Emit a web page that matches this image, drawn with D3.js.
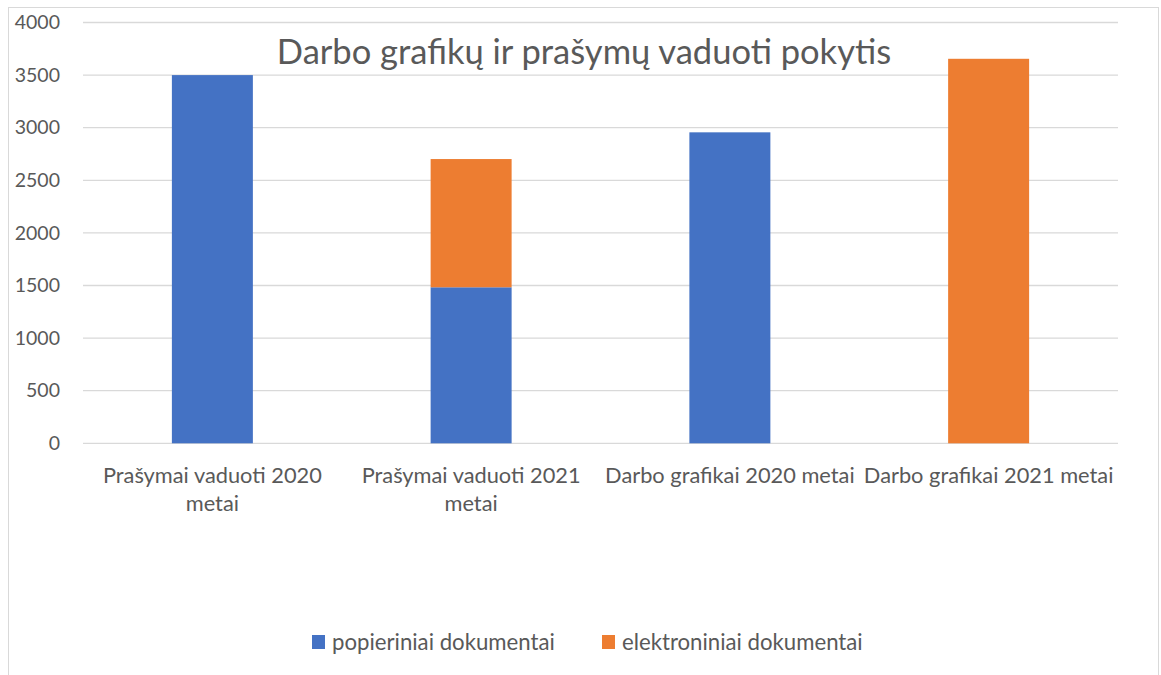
<!DOCTYPE html>
<html>
<head>
<meta charset="utf-8">
<script src="https://d3js.org/d3.v7.min.js"></script>
<style>
  body { margin: 0; background: #ffffff; }
  text { font-family: Lato, "Open Sans", sans-serif; fill: #595959; }
</style>
</head>
<body>
<div id="chart"></div>
<script>
// Chart data
let categories = [
  ["Prašymai vaduoti 2020", "metai"],
  ["Prašymai vaduoti 2021", "metai"],
  ["Darbo grafikai 2020 metai"],
  ["Darbo grafikai 2021 metai"]
];
let seriesNames = ["popieriniai dokumentai", "elektroniniai dokumentai"];
let paperValues = [3500, 1483, 2956, 0];
let electronicValues = [0, 1219, 0, 3655];
let yTicks = [0, 500, 1000, 1500, 2000, 2500, 3000, 3500, 4000];
let colors = ["#4472C4", "#ED7D31"];

// Set height and width for svg
let svgWidth = 1161;
let svgHeight = 675;
let margin = { top: 22.5, right: 43, bottom: 231.7, left: 83 };
let width = svgWidth - margin.left - margin.right;
let height = svgHeight - margin.top - margin.bottom;

let svg = d3.select("#chart")
  .append("svg")
  .attr("width", svgWidth)
  .attr("height", svgHeight);

// Outer frame
svg.append("rect")
  .attr("x", 8.5)
  .attr("y", 7.5)
  .attr("width", 1150)
  .attr("height", 720)
  .attr("fill", "none")
  .attr("stroke", "#D9D9D9");

let chartGroup = svg.append("g")
  .attr("transform", `translate(${margin.left}, ${margin.top})`);

// Scales
let xScale = d3.scaleBand()
  .domain(d3.range(categories.length))
  .range([0, width])
  .paddingInner(0.687)
  .paddingOuter(0.3435);

let yScale = d3.scaleLinear()
  .domain([0, 4000])
  .range([height, 0]);

// Gridlines
chartGroup.append("g")
  .selectAll("line")
  .data(yTicks)
  .enter()
  .append("line")
  .attr("x1", 0)
  .attr("x2", width)
  .attr("y1", d => yScale(d))
  .attr("y2", d => yScale(d))
  .attr("stroke", "#D9D9D9")
  .attr("stroke-width", 1.3);

// Y axis labels
let leftAxis = d3.axisLeft(yScale)
  .tickValues(yTicks)
  .tickFormat(d3.format("d"))
  .tickSize(0)
  .tickPadding(23);
let yAxis = chartGroup.append("g").call(leftAxis);
yAxis.select(".domain").remove();
yAxis.selectAll("text")
  .style("font-size", "19.5px")
  .attr("fill", "#595959");

// Stack the two series
let stackRows = categories.map((c, i) => ({ idx: i, paper: paperValues[i], electronic: electronicValues[i] }));
let stacked = d3.stack().keys(["paper", "electronic"])(stackRows);

chartGroup.append("g")
  .selectAll("g")
  .data(stacked)
  .enter()
  .append("g")
  .attr("fill", (d, i) => colors[i])
  .selectAll("rect")
  .data(d => d.filter(p => p[1] > p[0]))
  .enter()
  .append("rect")
  .attr("x", d => xScale(d.data.idx))
  .attr("width", xScale.bandwidth())
  .attr("y", d => yScale(d[1]))
  .attr("height", d => yScale(d[0]) - yScale(d[1]));

// Category labels
let xLabels = chartGroup.append("g")
  .selectAll("text")
  .data(categories)
  .enter()
  .append("text")
  .attr("x", (d, i) => xScale(i) + xScale.bandwidth() / 2)
  .attr("y", height + 40)
  .style("font-size", "21.8px")
  .style("text-anchor", "middle");
xLabels.selectAll("tspan")
  .data(d => d)
  .enter()
  .append("tspan")
  .attr("x", function() { return d3.select(this.parentNode).attr("x"); })
  .attr("dy", (d, i) => i === 0 ? 0 : 28)
  .text(d => d);

// Title
svg.append("text")
  .attr("x", 584)
  .attr("y", 64)
  .style("font-size", "34.5px")
  .style("text-anchor", "middle")
  .text("Darbo grafikų ir prašymų vaduoti pokytis");

// Legend
let legendX = [312, 602];
let legend = svg.append("g")
  .selectAll("g")
  .data(seriesNames)
  .enter()
  .append("g")
  .attr("transform", (d, i) => `translate(${legendX[i]}, 635)`);
legend.append("rect")
  .attr("width", 13)
  .attr("height", 14)
  .attr("fill", (d, i) => colors[i]);
legend.append("text")
  .attr("x", 20)
  .attr("y", 14.5)
  .style("font-size", "22.2px")
  .text(d => d);
</script>
</body>
</html>
